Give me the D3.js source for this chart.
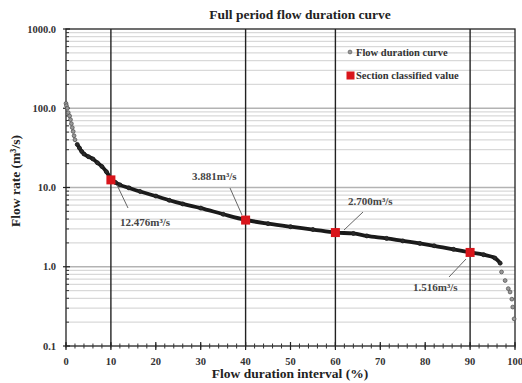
<!DOCTYPE html>
<html><head><meta charset="utf-8">
<script src="https://cdn.jsdelivr.net/npm/d3@7"></script>
<style>body{margin:0;background:#fff}svg{display:block}text{font-family:"Liberation Serif","Times New Roman",serif;font-weight:bold}</style>
</head><body>
<svg id="c" width="522" height="383"></svg>
<script>
const curvePct  = [0, 0.1, 0.3, 0.5, 0.8, 1.0, 1.2, 1.4, 1.6, 1.8, 2.0, 2.5, 3.0, 3.5, 4.0, 5.0, 6.0, 7.0, 8.0, 9.0,
  10, 11, 12, 14, 16.5, 20, 23, 26, 30, 35, 40, 45, 50, 55, 60, 64, 67, 71.4, 75, 78.8, 82, 86.3, 90,
  93, 95.5, 96.7, 97.0, 97.8, 98.5, 98.9, 99.3, 99.5, 99.8];
const curveFlow = [115, 108, 100, 88, 80, 72, 64, 57, 51, 45, 40, 35, 31.5, 28.5, 26.5, 24.5, 22.9, 20.5, 18.4, 15.8,
  13.0, 11.6, 10.8, 9.9, 8.9, 7.8, 6.9, 6.2, 5.5, 4.6, 3.9, 3.5, 3.2, 2.95, 2.7, 2.63, 2.45, 2.28, 2.12, 1.97, 1.84, 1.66, 1.52,
  1.42, 1.29, 1.11, 0.86, 0.67, 0.53, 0.48, 0.39, 0.31, 0.22];
const sectionPct  = [10, 40, 60, 90];
const sectionFlow = [12.476, 3.881, 2.700, 1.516];
const sectionLabels = ["12.476m³/s", "3.881m³/s", "2.700m³/s", "1.516m³/s"];
const xTicks = [0,10,20,30,40,50,60,70,80,90,100];
const yTicks = [0.1, 1, 10, 100, 1000];
const yTickLabels = ["0.1", "1.0", "10.0", "100.0", "1000.0"];
const titleText = "Full period flow duration curve";
const xTitle = "Flow duration interval (%)";
const yTitle = "Flow rate (m³/s)";
const legendLabels = ["Flow duration curve", "Section classified value"];

const svg = d3.select("#c");
const L = 66, R = 515, T = 29, B = 346;
const x = d3.scaleLinear().domain([0,100]).range([L,R]);
const y = d3.scaleLog().domain([0.1,1000]).range([B,T]);

// minor gridlines
const minor = [];
for (let e = -1; e < 3; e++) for (let m = 2; m <= 9; m++) minor.push(m*Math.pow(10,e));
svg.append("g").selectAll("line").data(minor).join("line")
  .attr("x1",L).attr("x2",R).attr("y1",d=>y(d)).attr("y2",d=>y(d))
  .attr("stroke","#d9d9d9").attr("stroke-width",1.2);
svg.append("g").selectAll("line").data([1,10,100]).join("line")
  .attr("x1",L).attr("x2",R).attr("y1",d=>y(d)).attr("y2",d=>y(d))
  .attr("stroke","#b3b3b3").attr("stroke-width",1.6);

// vertical section lines
svg.append("g").selectAll("line").data(sectionPct).join("line")
  .attr("x1",d=>x(d)).attr("x2",d=>x(d)).attr("y1",T).attr("y2",B)
  .attr("stroke","#222").attr("stroke-width",1.4);

// border
svg.append("rect").attr("x",L).attr("y",T).attr("width",R-L).attr("height",B-T)
  .attr("fill","none").attr("stroke","#222").attr("stroke-width",1.3);

// y minor ticks (inside)
svg.append("g").selectAll("line").data(minor).join("line")
  .attr("x1",L).attr("x2",L+3).attr("y1",d=>y(d)).attr("y2",d=>y(d))
  .attr("stroke","#333").attr("stroke-width",1);
svg.append("g").selectAll("line").data(yTicks).join("line")
  .attr("x1",L-3).attr("x2",L+4).attr("y1",d=>y(d)).attr("y2",d=>y(d))
  .attr("stroke","#222").attr("stroke-width",1.2);

// x ticks
const xMinor = d3.range(0,101,2);
svg.append("g").selectAll("line").data(xMinor).join("line")
  .attr("x1",d=>x(d)).attr("x2",d=>x(d)).attr("y1",B-2.5).attr("y2",B+2.5)
  .attr("stroke","#333").attr("stroke-width",1);
svg.append("g").selectAll("line").data(xTicks).join("line")
  .attr("x1",d=>x(d)).attr("x2",d=>x(d)).attr("y1",B-4).attr("y2",B+4)
  .attr("stroke","#222").attr("stroke-width",1.2);

// tick labels
svg.append("g").selectAll("text").data(yTicks).join("text")
  .attr("x",56).attr("y",d=>y(d)+3.5).attr("text-anchor","end")
  .attr("font-size",10.5).attr("fill","#333").text((d,i)=>yTickLabels[i]);
svg.append("g").selectAll("text").data(xTicks).join("text")
  .attr("x",d=>x(d)).attr("y",365).attr("text-anchor","middle")
  .attr("font-size",10.5).attr("fill","#333").text(d=>d);

// titles
svg.append("text").attr("x",300).attr("y",19).attr("text-anchor","middle")
  .attr("font-size",13.5).attr("fill","#222").text(titleText);
svg.append("text").attr("x",290).attr("y",378).attr("text-anchor","middle")
  .attr("font-size",13.5).attr("fill","#222").text(xTitle);
svg.append("text").attr("transform","translate(20,181) rotate(-90)").attr("text-anchor","middle")
  .attr("font-size",13.5).attr("fill","#222").text(yTitle);

// curve
const pts = curvePct.map((p,i)=>[p,curveFlow[i]]);
const mid = pts.filter(d=>d[0]>=2.5 && d[0]<=96.7);
svg.append("path").datum(mid)
  .attr("d",d3.line().x(d=>x(d[0])).y(d=>y(d[1])).curve(d3.curveMonotoneX))
  .attr("fill","none").attr("stroke","#1a1a1a").attr("stroke-width",3.8);
const isTail = d => d[0] < 2.5 || d[0] > 96.7;
svg.append("g").selectAll("circle").data(pts).join("circle")
  .attr("cx",d=>x(d[0])).attr("cy",d=>y(d[1])).attr("r",d=>isTail(d)?1.9:2)
  .attr("fill",d=>isTail(d)?"#9a9a9a":"#2a2a2a").attr("stroke",d=>isTail(d)?"#555":"#1a1a1a").attr("stroke-width",0.8);

// annotations
const annPos = [[120,226,"start",117,185,128,208],[192,180,"start",230,188,242,215],
                [348,205,"start",363,212,344,230],[413,291,"start",449,277,466,259]];
sectionLabels.forEach((t,i)=>{
  const a = annPos[i];
  svg.append("line").attr("x1",a[3]).attr("y1",a[4]).attr("x2",a[5]).attr("y2",a[6])
    .attr("stroke","#666").attr("stroke-width",1);
  svg.append("text").attr("x",a[0]).attr("y",a[1]).attr("text-anchor",a[2])
    .attr("font-size",11).attr("fill","#444").text(t);
});

// section markers
svg.append("g").selectAll("rect").data(sectionPct).join("rect")
  .attr("x",d=>x(d)-4.5).attr("y",(d,i)=>y(sectionFlow[i])-4.5)
  .attr("width",9).attr("height",9).attr("fill","#d9151b");

// legend
svg.append("circle").attr("cx",350).attr("cy",52).attr("r",1.9)
  .attr("fill","#9a9a9a").attr("stroke","#666").attr("stroke-width",0.8);
svg.append("text").attr("x",356).attr("y",56).attr("font-size",10.5).attr("fill","#333").text(legendLabels[0]);
svg.append("rect").attr("x",346.5).attr("y",71.5).attr("width",8).attr("height",8).attr("fill","#d9151b");
svg.append("text").attr("x",356).attr("y",79).attr("font-size",10.5).attr("fill","#333").text(legendLabels[1]);
</script>
</body></html>
